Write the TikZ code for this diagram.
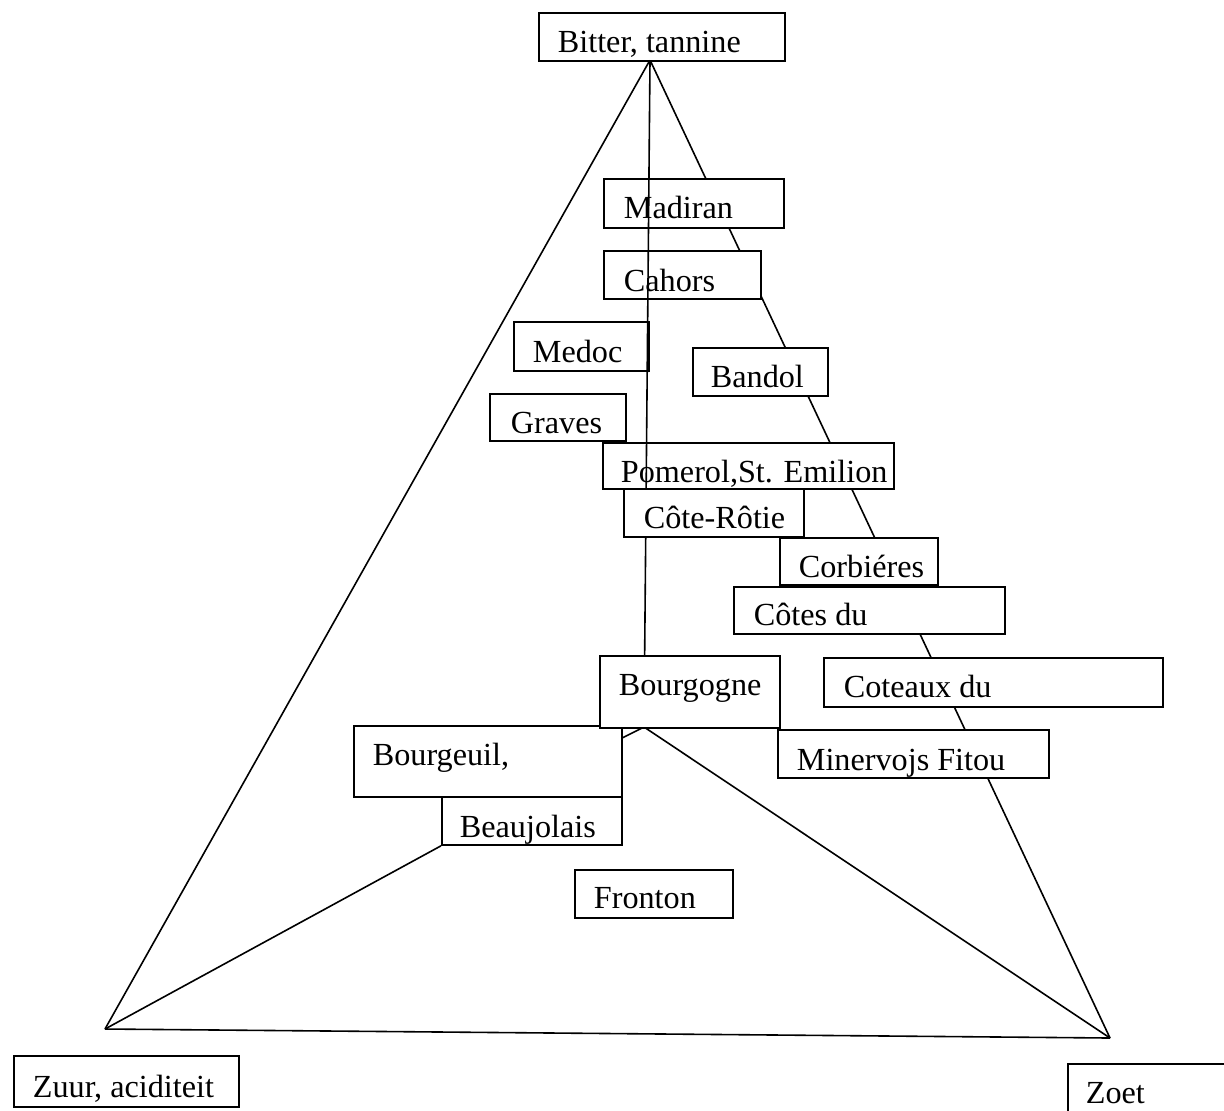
\documentclass[tikz,border=0pt]{standalone}
\usepackage{fontspec}
\setmainfont{Liberation Serif}
\usetikzlibrary{backgrounds}
\newcommand{\wbox}[8]{%
  \pgfmathsetmacro\wbW{(#4-#2)*0.5}%
  \pgfmathsetmacro\wbP{(#6-#2)*0.5}%
  \pgfmathsetmacro\wbH{(#7-#3)*0.5}%
  \pgfmathsetmacro\wbD{(#5-#7)*0.5}%
  \node[wboxst, text height=\wbH pt, text depth=\wbD pt] (#1) at (#2,#3) {\hbox to \wbW pt{\hspace{\wbP pt}#8\hfil}};%
}
\tikzset{
  wboxst/.style={draw, fill=white, anchor=north west, inner sep=0pt, line width=0.9pt,
    font=\fontsize{16.1pt}{19pt}\selectfont},
  edge/.style={line width=0.8pt}
}
\begin{document}
\begin{tikzpicture}[x=0.5pt, y=-0.5pt]
\clip (0,0) rectangle (1224,1110);
\begin{scope}[on background layer]
\fill[white] (0,0) rectangle (1224,1110);
\end{scope}
% key points
\coordinate (A) at (650,60);
\coordinate (BL) at (105,1029);
\coordinate (BR) at (1110,1038);
\coordinate (J) at (644,727);
\coordinate (K) at (622,738);
% boxes
\wbox{bitter}{538}{12}{784}{60}{557}{52}{Bitter, tannine}
\wbox{madiran}{603}{178}{783}{227}{623}{218}{Madiran}
\wbox{cahors}{603}{250}{760}{298}{623}{291}{Cahors}
\wbox{medoc}{513}{321}{648}{370}{532}{362}{Medoc}
\wbox{bandol}{692}{347}{827}{395}{710}{387}{Bandol}
\wbox{graves}{489}{393}{625}{440}{510}{433}{Graves}
\wbox{pomerol}{602}{442}{893}{488}{620}{482}{Pomerol,St. Emilion}
\wbox{corbieres}{779}{537}{937}{584}{798}{577}{Corbiéres}
\wbox{cotesdu}{733}{586}{1004}{633}{753}{625}{Côtes du}
\wbox{coteaux}{823}{657}{1162}{706}{843}{697}{Coteaux du}
\wbox{bourgeuil}{353}{725}{621}{796}{372}{765}{Bourgeuil,}
\wbox{minervois}{777}{729}{1048}{777}{796}{770}{Minervojs Fitou}
\wbox{beaujolais}{441}{796}{621}{844}{459}{837}{Beaujolais}
\wbox{fronton}{574}{869}{732}{917}{593}{908}{Fronton}
\wbox{zuur}{13}{1055}{238}{1106}{32}{1097}{Zuur, aciditeit}
\wbox{zoet}{1067}{1063}{1240}{1124}{1085}{1103}{Zoet}
% vertical axis over the upper boxes
\draw[edge] (A) -- (J);
\wbox{coterotie}{623}{488}{803}{536}{643}{528}{Côte-Rôtie}
\wbox{bourgogne}{599}{655}{779}{727}{618}{695}{Bourgogne}
% triangle and connectors behind the boxes
\begin{scope}[on background layer]
\draw[edge] (A) -- (BL);
\draw[edge] (A) -- (BR);
\draw[edge] (BL) -- (BR);
\draw[edge] (J) -- (BR);
\draw[edge] (J) -- (K);
\draw[edge] (BL) -- (beaujolais.south west);
\end{scope}
\end{tikzpicture}
\end{document}
